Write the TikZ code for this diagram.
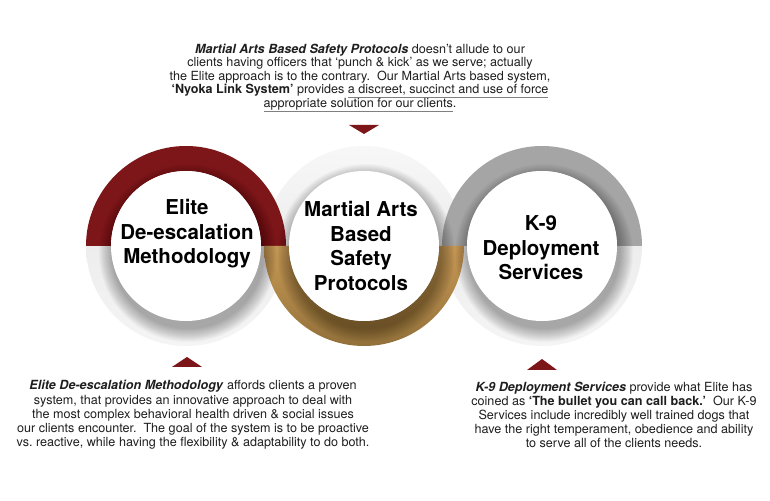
\documentclass[tikz,border=0pt]{standalone}
\usepackage{fontspec}
\setmainfont{TeX Gyre Heros}
\definecolor{ered}{HTML}{7D1619}
\definecolor{egoldA}{HTML}{C89A55}
\definecolor{egoldB}{HTML}{92703A}
\definecolor{egray}{HTML}{A5A5A5}
\definecolor{elight}{HTML}{EDEDED}
\definecolor{etext}{HTML}{1E1E1E}
\tikzset{
  para/.style={align=center, text=etext, font=\fontsize{12.6}{13.4}\selectfont, inner sep=0pt},
  parb/.style={align=center, text=etext, font=\fontsize{12.6}{14.2}\selectfont, inner sep=0pt},
  ctitle/.style={align=center, text=black, font=\bfseries\fontsize{20.5}{24.5}\selectfont, inner sep=0pt},
  marker/.style={fill=ered},
}
\newcommand{\ulgray}[1]{{\color{gray}\underline{\color{etext}#1}}}
% half annulus helpers: #1 center x, #2 center y
\newcommand{\tophalf}[2]{(#1+100,#2) arc (0:180:100) -- (#1-75,#2) arc (180:0:75) -- cycle}
\newcommand{\bothalf}[2]{(#1+100,#2) arc (0:-180:100) -- (#1-75,#2) arc (180:360:75) -- cycle}
\begin{document}
\begin{tikzpicture}[x=1pt,y=1pt]
\useasboundingbox (0,0) rectangle (770,500);
\fill[white] (0,0) rectangle (770,500);
% light halves
\shade[top color=elight, bottom color=gray!8] \bothalf{186}{254};
\shade[top color=elight, bottom color=gray!8] \bothalf{542}{254};
\shade[top color=gray!6, bottom color=elight] \tophalf{364}{254};
% coloured halves
\fill[ered] \tophalf{186}{254};
\fill[egray] \tophalf{542}{254};
\shade[top color=egoldA, bottom color=egoldB] \bothalf{364}{254};
% soft shadows under the white discs
\foreach \cx in {186,364,542}{
  \foreach \i in {0,...,13}{
    \fill[black, opacity=0.025] (\cx+2,254-7) circle ({75+14-\i});
  }
}
% white discs
\node[circle, fill=white, minimum size=150pt, inner sep=0pt] (cL) at (186,254) {};
\node[circle, fill=white, minimum size=150pt, inner sep=0pt] (cM) at (364,254) {};
\node[circle, fill=white, minimum size=150pt, inner sep=0pt] (cR) at (542,254) {};
% titles
\node[ctitle] (tL) at (187,266) {Elite\\De-escalation\\Methodology};
\node[ctitle] (tM) at (361,254) {Martial Arts\\Based\\Safety\\Protocols};
\node[ctitle] (tR) at (541,252) {K-9\\Deployment\\Services};
% markers
\fill[marker] (349,375) -- (379,375) -- (364,366) -- cycle;
\fill[marker] (172,133) -- (202,133) -- (187,143) -- cycle;
\fill[marker] (527,130) -- (557,130) -- (542,141) -- cycle;
% paragraphs
\node[para] (pT) at (360,422) {\textbf{\textit{Martial Arts Based Safety Protocols}} doesn’t allude to our\\
clients having officers that ‘punch \& kick’ as we serve; actually\\
the Elite approach is to the contrary.\ \ Our Martial Arts based system,\\
\textbf{‘Nyoka Link System’} provides \ulgray{a discreet, succinct and use of force}\\
\ulgray{appropriate solution for our clients}.};
\node[parb] (pL) at (193,85) {\textbf{\textit{Elite De-escalation Methodology}} affords clients a proven\\
system, that provides an innovative approach to deal with\\
the most complex behavioral health driven \& social issues\\
our clients encounter.\ \ The goal of the system is to be proactive\\
vs.\ reactive, while having the flexibility \& adaptability to do both.};
\node[parb] (pR) at (614,85) {\textbf{\textit{K-9 Deployment Services}} provide what Elite has\\
coined as \textbf{‘The bullet you can call back.’}\ \ Our K-9\\
Services include incredibly well trained dogs that\\
have the right temperament, obedience and ability\\
to serve all of the clients needs.};
\end{tikzpicture}
\end{document}
